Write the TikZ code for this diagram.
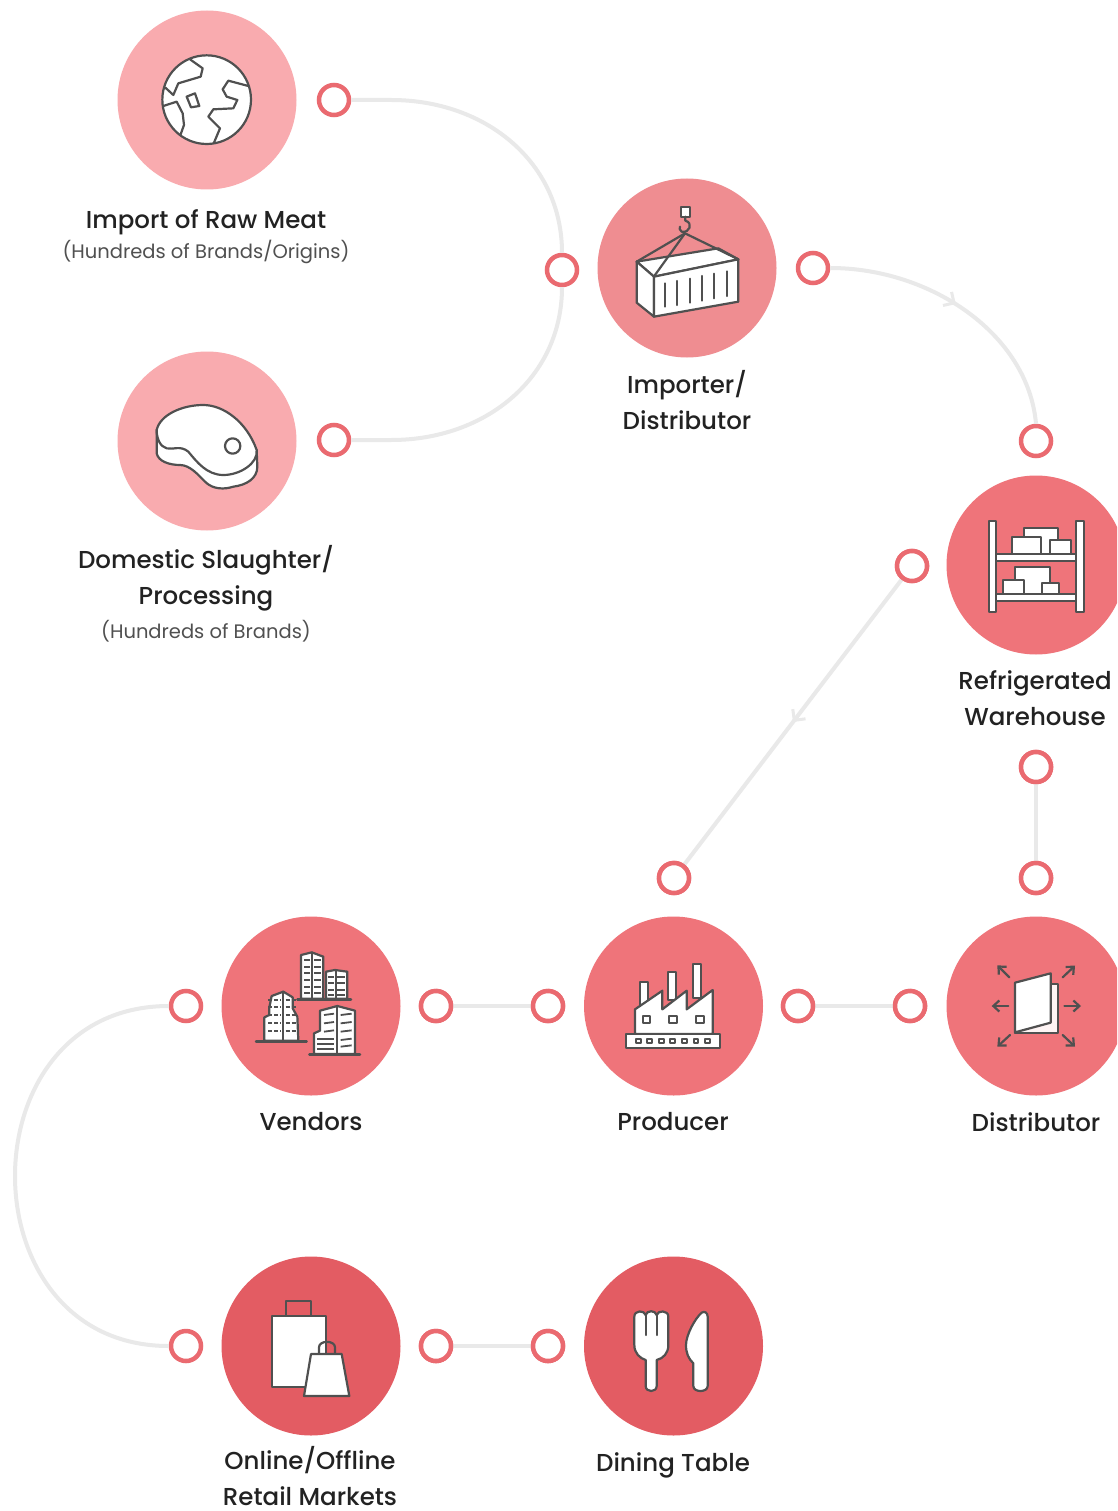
\documentclass[tikz,border=0pt]{standalone}
\usepackage{fontspec}
\setmainfont{Poppins}
\newfontfamily\labfont{Poppins Medium}
\usetikzlibrary{arrows.meta,decorations.markings}
\definecolor{cA}{HTML}{F9ABAF}
\definecolor{cB}{HTML}{EF8D91}
\definecolor{cC}{HTML}{EF747A}
\definecolor{cD}{HTML}{E35C63}
\definecolor{ringc}{HTML}{EA6A70}
\definecolor{linec}{HTML}{E9E9E9}
\definecolor{inkc}{HTML}{505050}
\definecolor{txtc}{HTML}{222222}
\definecolor{subc}{HTML}{505050}
\tikzset{
  disc/.style={circle,minimum size=179pt,inner sep=0pt,fill=#1},
  ringn/.style={circle,draw=ringc,fill=white,line width=4.5pt,minimum size=30pt,inner sep=0pt},
  conn/.style={draw=linec,line width=4pt},
  ico/.style={draw=inkc,fill=white,line width=2.2pt,line join=round},
  icl/.style={draw=inkc,line width=2.2pt,line join=round,line cap=round},
  lab/.style={text=txtc,align=center,font=\labfont\fontsize{24.5}{36}\selectfont,inner sep=0pt},
  sublab/.style={text=subc,font=\fontsize{19.5}{26}\selectfont,inner sep=0pt},
  chev/.style={postaction={decorate,decoration={markings,mark=at position #1 with {\arrow[linec,line width=3pt]{Straight Barb[length=8pt,width=16pt]}}}}}
}
\begin{document}
\begin{tikzpicture}[x=1pt,y=-1pt]
\useasboundingbox (0,0) rectangle (1117,1511);
\clip (0,0) rectangle (1117,1511);
\fill[white] (0,0) rectangle (1117,1511);
% discs
\node[disc=cA] (meat) at (207,100) {};
\node[disc=cA] (dom) at (207,441) {};
\node[disc=cB] (imp) at (687,268) {};
\node[disc=cC] (ware) at (1036,565) {};
\node[disc=cC] (vend) at (311,1006) {};
\node[disc=cC] (prod) at (673.5,1006) {};
\node[disc=cC] (dist) at (1036,1006) {};
\node[disc=cD] (shop) at (311,1346) {};
\node[disc=cD] (dine) at (673.5,1346) {};
% rings
\node[ringn] (r1) at (334,100) {};
\node[ringn] (r2) at (334,440) {};
\node[ringn] (r3) at (562,270) {};
\node[ringn] (r4) at (813,268) {};
\node[ringn] (r5) at (1036,441) {};
\node[ringn] (r6) at (912,566) {};
\node[ringn] (r7) at (1036,767) {};
\node[ringn] (r8) at (1036,878) {};
\node[ringn] (r9) at (674,878) {};
\node[ringn] (r10) at (186,1006) {};
\node[ringn] (r11) at (436,1006) {};
\node[ringn] (r12) at (548,1006) {};
\node[ringn] (r13) at (798,1006) {};
\node[ringn] (r14) at (910,1006) {};
\node[ringn] (r15) at (186,1346) {};
\node[ringn] (r16) at (436,1346) {};
\node[ringn] (r17) at (548,1346) {};
% connectors
\draw[conn] (r1.east) -- ++(40,0) .. controls +(95,0) and +(0,-90) .. (r3.north);
\draw[conn] (r2.east) -- ++(40,0) .. controls +(95,0) and +(0,90) .. (r3.south);
\draw[conn,chev=0.47] (r4.east) .. controls +(100,0) and +(-8,-90) .. (r5.north);
\draw[conn,chev=0.5] (r6) -- (r9);
\draw[conn] (r7) -- (r8);
\draw[conn] (r11) -- (r12);
\draw[conn] (r13) -- (r14);
\draw[conn] (r16) -- (r17);
\draw[conn] (r10.west) .. controls +(-205,0) and +(-205,0) .. (r15.west);
% re-draw rings over line ends
\foreach \n in {r6,r7,r8,r9,r11,r12,r13,r14,r16,r17}{\node[ringn] at (\n) {};}
% globe
\begin{scope}[shift={(110,0)},scale=1/3]
\draw[ico] (290,299) circle (133);
\draw[icl] (240,178) -- (278,205) -- (272,230) -- (205,250) -- (190,285) -- (165,262);
\draw[icl] (160,318) -- (200,305) -- (218,340) -- (222,375) -- (212,403);
\draw[icl] (230,290) -- (255,280) -- (268,318) -- (243,322) -- cycle;
\draw[icl] (415,258) -- (355,242) -- (338,268) -- (350,290) -- (382,300) -- (370,325) -- (310,328) -- (295,350) -- (330,385) -- (312,428);
\end{scope}
% meat
\begin{scope}[shift={(110,350)},scale=1/3]
\draw[ico] (140,240) -- (140,310) .. controls (145,335) and (180,345) .. (210,345) .. controls (240,345) and (265,375) .. (285,395) .. controls (310,420) and (345,418) .. (370,410) .. controls (410,405) and (442,385) .. (442,350) -- (440,300) -- cycle;
\draw[ico] (140,240) .. controls (150,195) and (215,165) .. (280,165) .. controls (340,165) and (410,215) .. (440,300) .. controls (445,340) and (390,375) .. (340,375) .. controls (290,375) and (260,335) .. (235,305) .. controls (210,285) and (190,300) .. (170,295) .. controls (150,290) and (140,265) .. (140,240) -- cycle;
\draw[icl] (368,288) circle (23);
\end{scope}
% container
\begin{scope}[shift={(590,180)},scale=1/3]
\draw[ico] (140,245) -- (385,205) -- (445,238) -- (192,290) -- cycle;
\draw[ico] (140,245) -- (192,290) -- (192,410) -- (140,368) -- cycle;
\draw[ico] (192,290) -- (445,238) -- (445,365) -- (192,410) -- cycle;
\draw[icl] (140,245) -- (285,160) -- (445,238);
\draw[icl] (285,160) -- (195,285);
\draw[ico] (272,82) rectangle (300,110);
\draw[icl] (286,110) -- (286,122) .. controls (310,128) and (300,160) .. (275,155) .. controls (268,150) and (268,145) .. (270,140);
\draw[icl] (225,310) -- (225,380);
\draw[icl] (262,303) -- (262,375);
\draw[icl] (300,296) -- (300,368);
\draw[icl] (337,288) -- (337,362);
\draw[icl] (373,281) -- (373,355);
\draw[icl] (410,274) -- (410,348);
\end{scope}
% warehouse
\begin{scope}[shift={(940,480)},scale=1/3]
\draw[ico] (252,143) rectangle (355,222);
\draw[ico] (216,170) rectangle (302,222);
\draw[ico] (330,181) rectangle (393,222);
\draw[ico] (226,262) rectangle (330,342);
\draw[ico] (188,300) rectangle (252,342);
\draw[ico] (306,310) rectangle (358,342);
\draw[ico] (168,222) rectangle (408,244);
\draw[ico] (168,342) rectangle (408,362);
\draw[ico] (146,124) rectangle (168,395);
\draw[ico] (408,124) rectangle (431,395);
\end{scope}
% vendors
\begin{scope}[shift={(220,920)},scale=1/3]
\draw[ico] (243,105) -- (275,97) -- (310,110) -- (310,236) -- (243,236) -- cycle;
\draw[ico] (318,155) -- (345,150) -- (382,155) -- (382,236) -- (318,236) -- cycle;
\foreach \yy in {120,140,160,180,200,220}{
 \draw[inkc,line width=1.8pt] (252,\yy) -- (270,\yy) (282,\yy) -- (302,\yy);}
\foreach \yy in {170,190,210,226}{
 \draw[inkc,line width=1.8pt] (325,\yy) -- (342,\yy) (352,\yy) -- (375,\yy);}
\draw[icl] (275,97) -- (275,236);
\draw[icl] (347,150) -- (347,236);
\draw[icl,line width=2.5pt] (232,238) -- (393,238);
\draw[ico] (133,362) -- (133,292) -- (148,285) -- (148,262) -- (155,228) -- (190,215) -- (218,232) -- (218,265) -- (232,290) -- (235,362) -- cycle;
\foreach \yy in {240,262,285,308,332}{
 \draw[inkc,line width=1.8pt,dash pattern=on 4pt off 2pt] (145,\yy) -- (183,\yy) (197,\yy) -- (228,\yy);}
\draw[icl] (190,215) -- (190,362);
\draw[icl,line width=2.5pt] (108,364) -- (260,364);
\draw[ico] (282,402) -- (282,340) -- (300,332) -- (300,272) -- (352,258) -- (405,272) -- (405,402) -- cycle;
\foreach \yy in {285,310,335,360,380}{
 \draw[inkc,line width=1.8pt] (362,\yy) -- (395,\yy-4);}
\foreach \yy in {285,310,335}{
 \draw[inkc,line width=1.8pt] (312,\yy) -- (342,\yy-4);}
\foreach \yy in {358,372,388}{
 \draw[inkc,line width=1.8pt] (292,\yy) -- (342,\yy);}
\draw[icl] (352,258) -- (352,402);
\draw[icl,line width=2.5pt] (268,403) -- (420,403);
\end{scope}
% factory
\begin{scope}[shift={(585,920)},scale=1/3]
\draw[ico] (165,185) rectangle (190,255);
\draw[ico] (250,155) rectangle (273,240);
\draw[ico] (325,133) rectangle (347,235);
\draw[ico] (150,342) -- (150,268) -- (232,212) -- (232,268) -- (305,212) -- (305,268) -- (383,210) -- (383,342) -- cycle;
\foreach \xx in {184,264,345}{\draw[icl,fill=none] (\xx-11,287) rectangle (\xx+11,309);}
\draw[ico] (124,342) rectangle (405,385);
\foreach \xx in {160,194,229,263,298,333,368}{\draw[icl,fill=none] (\xx-7,356) rectangle (\xx+7,370);}
\end{scope}
% distributor
\begin{scope}[shift={(940,920)},scale=1/3]
\fill[white!92!cC] (225,192) rectangle (353,340);
\draw[icl] (330,192) -- (353,192) -- (353,340) -- (225,340);
\draw[ico] (225,188) -- (332,160) -- (332,308) -- (225,337) -- cycle;
\tikzset{>={Straight Barb[length=6pt,width=11pt]}}
\draw[icl,->] (205,258) -- (155,258);
\draw[icl,->] (373,258) -- (423,258);
\draw[icl,->] (208,172) -- (172,136);
\draw[icl,->] (368,172) -- (405,137);
\draw[icl,->] (210,345) -- (172,380);
\draw[icl,->] (368,345) -- (405,380);
\end{scope}
% bags
\begin{scope}[shift={(220,1260)},scale=1/3]
\draw[icl] (198,167) -- (198,122) -- (273,122) -- (273,167);
\draw[ico] (155,167) rectangle (317,380);
\draw[icl] (297,282) -- (297,262) .. controls (297,240) and (345,240) .. (345,262) -- (345,282);
\draw[ico] (273,282) -- (365,282) -- (388,408) -- (252,408) -- cycle;
\end{scope}
% cutlery
\begin{scope}[shift={(585,1260)},scale=1/3]
\draw[ico] (182,300) -- (182,378) .. controls (182,398) and (215,398) .. (215,378) -- (215,300) .. controls (235,295) and (250,280) .. (250,255) -- (250,170) .. controls (250,150) and (218,150) .. (215,165) .. controls (212,150) and (185,150) .. (182,165) .. controls (178,150) and (148,150) .. (148,170) -- (148,255) .. controls (148,280) and (165,295) .. (182,300) -- cycle;
\draw[icl] (182,165) -- (182,225);
\draw[icl] (215,165) -- (215,225);
\draw[ico] (368,170) -- (368,378) .. controls (368,398) and (325,398) .. (325,378) -- (325,310) .. controls (310,295) and (303,280) .. (303,255) .. controls (303,225) and (330,175) .. (350,158) .. controls (358,152) and (368,158) .. (368,170) -- cycle;
\end{scope}
% labels
\node[lab] (t1) at (206,222) {Import of Raw Meat};
\node[sublab] (s1) at (206,252) {(Hundreds of Brands/Origins)};
\node[lab] (t2) at (206,578) {Domestic Slaughter/\\Processing};
\node[sublab] (s2) at (206,631) {(Hundreds of Brands)};
\node[lab] (t3) at (687,400) {Importer/\\Distributor};
\node[lab] (t4) at (1035,698.5) {Refrigerated\\Warehouse};
\node[lab] (t5) at (1036,1122) {Distributor};
\node[lab] (t6) at (311,1122) {Vendors};
\node[lab] (t7) at (673,1122) {Producer};
\node[lab] (t8) at (310,1476) {Online/Offline\\Retail Markets};
\node[lab] (t9) at (673,1465) {Dining Table};
\end{tikzpicture}
\end{document}
